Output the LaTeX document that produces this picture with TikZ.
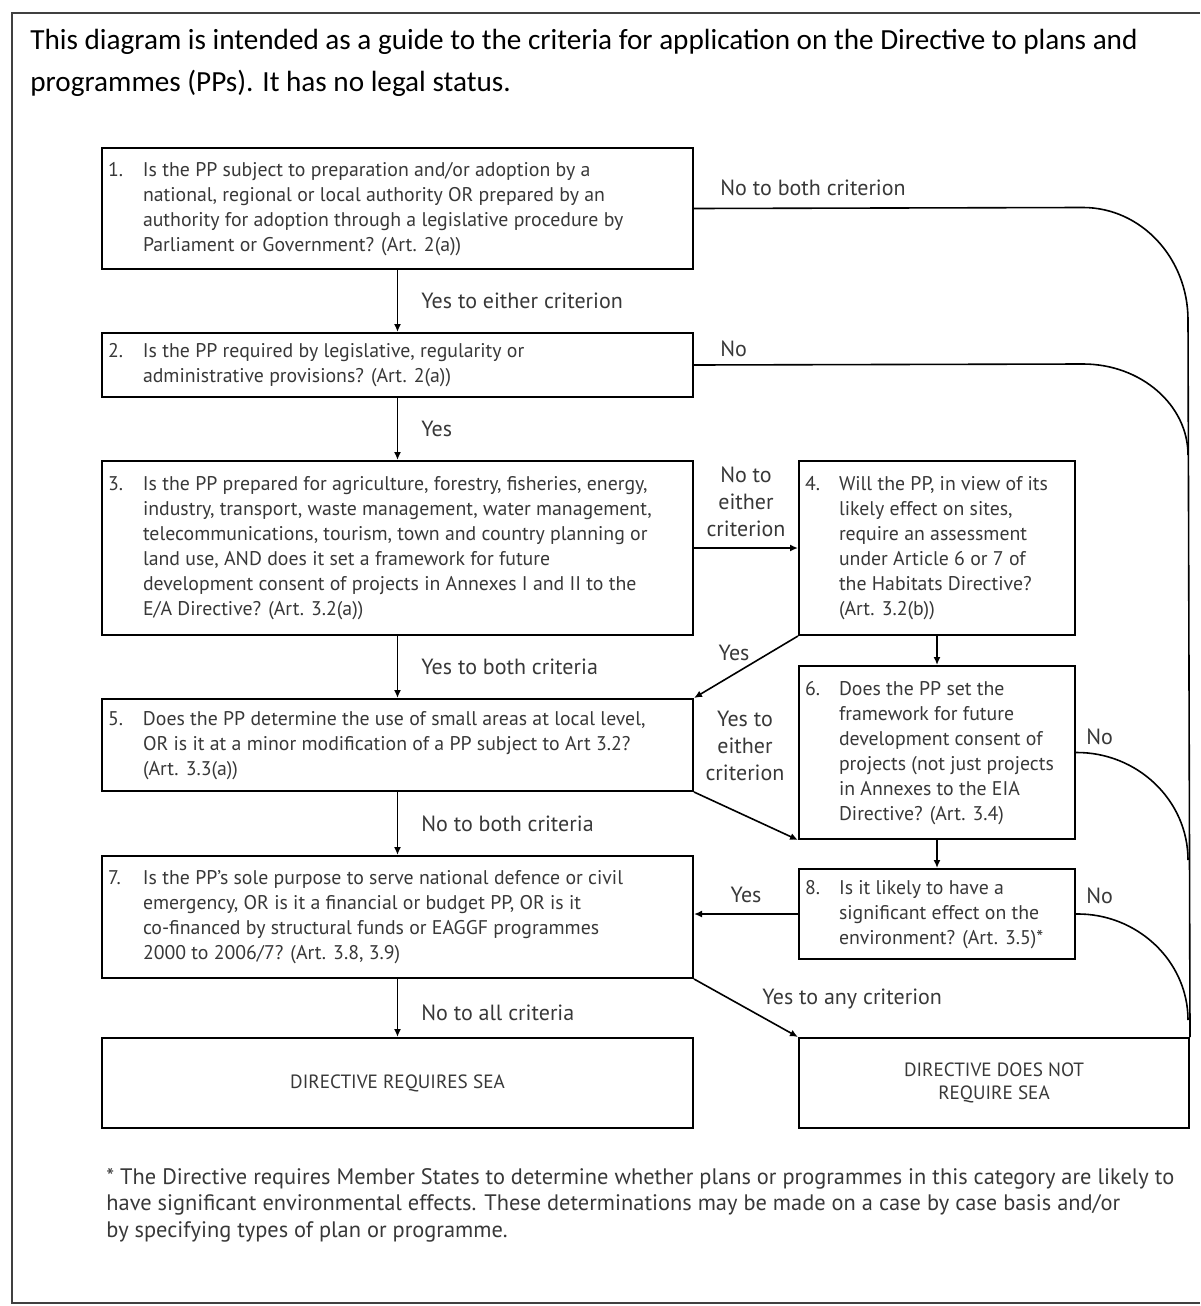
\documentclass[tikz,border=0pt]{standalone}
\usepackage{fontspec}
\setmainfont{PT Sans}
\newfontfamily\hdfont{Carlito}
\usetikzlibrary{arrows.meta}
\definecolor{ink}{HTML}{383838}

\begin{document}
\begin{tikzpicture}[x=0.5pt, y=-0.5pt, >={Latex[length=4pt,width=3.5pt]}]
\tikzstyle{qbox}=[draw, line width=1pt, anchor=north west, inner xsep=3pt, inner ysep=0pt, text=ink, font=\fontsize{9.9}{12.5}\selectfont]
\tikzstyle{endbox}=[qbox, align=center, font=\fontsize{9.6}{11.5}\selectfont]
\tikzstyle{tx}=[draw=none, fill=none, inner sep=0pt, text=ink, font=\fontsize{11}{13.5}\selectfont]
\tikzstyle{ln}=[line width=0.8pt]

\useasboundingbox (0,0) rectangle (1200,1306);
\draw[line width=1pt, black!75] (1200,13) -- (12,13) -- (12,1303) -- (1200,1303);

\node[tx, anchor=west, align=left, text=black, font=\hdfont\fontsize{14.6}{21}\selectfont] (title) at (30,63)
  {This diagram is intended as a guide to the criteria for application on the Directive to plans and\\
   programmes (PPs). It has no legal status.};

% left column
\node[qbox, minimum width=295.5pt, minimum height=60.5pt] (q1) at (101,147) {%
  \begin{tabular}{@{}p{17.5pt}@{}p{272pt}@{}}
  1. & Is the PP subject to preparation and/or adoption by a\\
     & national, regional or local authority OR prepared by an\\
     & authority for adoption through a legislative procedure by\\
     & Parliament or Government? (Art. 2(a))
  \end{tabular}};
\node[qbox, minimum width=295.5pt, minimum height=32pt] (q2) at (101,332) {%
  \begin{tabular}{@{}p{17.5pt}@{}p{272pt}@{}}
  2. & Is the PP required by legislative, regularity or\\
     & administrative provisions? (Art. 2(a))
  \end{tabular}};
\node[qbox, minimum width=295.5pt, minimum height=87pt] (q3) at (101,460) {%
  \begin{tabular}{@{}p{17.5pt}@{}p{272pt}@{}}
  3. & Is the PP prepared for agriculture, forestry, fisheries, energy,\\
     & industry, transport, waste management, water management,\\
     & telecommunications, tourism, town and country planning or\\
     & land use, AND does it set a framework for future\\
     & development consent of projects in Annexes I and II to the\\
     & E/A Directive? (Art. 3.2(a))
  \end{tabular}};
\node[qbox, minimum width=295.5pt, minimum height=46pt] (q5) at (101,698) {%
  \begin{tabular}{@{}p{17.5pt}@{}p{272pt}@{}}
  5. & Does the PP determine the use of small areas at local level,\\
     & OR is it at a minor modification of a PP subject to Art 3.2?\\
     & (Art. 3.3(a))
  \end{tabular}};
\node[qbox, minimum width=295.5pt, minimum height=61pt] (q7) at (101,855) {%
  \begin{tabular}{@{}p{17.5pt}@{}p{272pt}@{}}
  7. & Is the PP's sole purpose to serve national defence or civil\\
     & emergency, OR is it a financial or budget PP, OR is it\\
     & co-financed by structural funds or EAGGF programmes\\
     & 2000 to 2006/7? (Art. 3.8, 3.9)
  \end{tabular}};
\node[endbox, minimum width=295.5pt, minimum height=45pt] (q9) at (101,1037) {DIRECTIVE REQUIRES SEA};

% right column
\node[qbox, minimum width=138pt, minimum height=87pt] (q4) at (798,460) {%
  \begin{tabular}{@{}p{17pt}@{}p{115pt}@{}}
  4. & Will the PP, in view of its\\
     & likely effect on sites,\\
     & require an assessment\\
     & under Article 6 or 7 of\\
     & the Habitats Directive?\\
     & (Art. 3.2(b))
  \end{tabular}};
\node[qbox, minimum width=138pt, minimum height=86.5pt] (q6) at (798,665) {%
  \begin{tabular}{@{}p{17pt}@{}p{115pt}@{}}
  6. & Does the PP set the\\
     & framework for future\\
     & development consent of\\
     & projects (not just projects\\
     & in Annexes to the EIA\\
     & Directive? (Art. 3.4)
  \end{tabular}};
\node[qbox, minimum width=138pt, minimum height=45pt] (q8) at (798,868) {%
  \begin{tabular}{@{}p{17pt}@{}p{115pt}@{}}
  8. & Is it likely to have a\\
     & significant effect on the\\
     & environment? (Art. 3.5)*
  \end{tabular}};
\node[endbox, minimum width=195pt, minimum height=45pt] (q10) at (798,1037) {DIRECTIVE DOES NOT\\REQUIRE SEA};

% main line
\path (q1) edge[->, ln] node[tx, right=11.5pt]{Yes to either criterion} (q2);
\path (q2) edge[->, ln] node[tx, right=11.5pt]{Yes} (q3);
\path (q3) edge[->, ln] node[tx, right=11.5pt]{Yes to both criteria} (q5);
\path (q5) edge[->, ln] node[tx, right=11.5pt]{No to both criteria} (q7);
\path (q7) edge[->, ln] node[tx, right=11.5pt, yshift=-2.5pt]{No to all criteria} (q9);

\path (q3) edge[->, ln] node[tx, above=5pt, align=center]{No to\\either\\criterion} (q4);
\draw[->, ln] (q4) -- (q6);
\draw[->, ln] (q6) -- (q8);
\path (q4.south west) edge[->, ln] node[tx, above, xshift=-6pt, yshift=2.5pt]{Yes} (q5.north east);
\draw[->, ln] (q5.south east) -- (q6.south west);
\node[tx, align=center] (l56) at (745,746) {Yes to\\either\\criterion};
\path (q8.west) edge[->, ln] node[tx, above=5pt]{Yes} (q8.west -| q7.east);
\draw[->, ln] (q7.south east) -- (q10.north west);
\node[tx, anchor=west] (l710) at (762,999) {Yes to any criterion};

% "no" exits to the right
\coordinate (k1) at (1083,207.5);
\coordinate (k2) at (1188,320);
\coordinate (k3) at (1083,364);
\coordinate (k4) at (1188,455);
\coordinate (k5) at (1188,860);
\coordinate (k6) at (1188,1020);
\draw[ln] (q1.east) -- (k1) .. controls (1141,207.5) and (1188,258) .. (k2) -- (q10.north east);
\draw[ln] (q2.east) -- (k3) .. controls (1141,364) and (1188,405) .. (k4);
\draw[ln] (q6.east) .. controls (1137,752) and (1188,800) .. (k5);
\draw[ln] (q8.east) .. controls (1137,913) and (1188,961) .. (k6);
\node[tx, anchor=west] (l1r) at (720,188) {No to both criterion};
\node[tx, anchor=west] (l2r) at (720,349) {No};
\node[tx, anchor=west] (l6r) at (1086,737) {No};
\node[tx, anchor=west] (l8r) at (1086,896) {No};

\node[tx, anchor=west, align=left, font=\fontsize{11.2}{13.25}\selectfont] (note) at (106,1205)
  {* The Directive requires Member States to determine whether plans or programmes in this category are likely to\\
   have significant environmental effects. These determinations may be made on a case by case basis and/or\\
   by specifying types of plan or programme.};
\end{tikzpicture}
\end{document}
